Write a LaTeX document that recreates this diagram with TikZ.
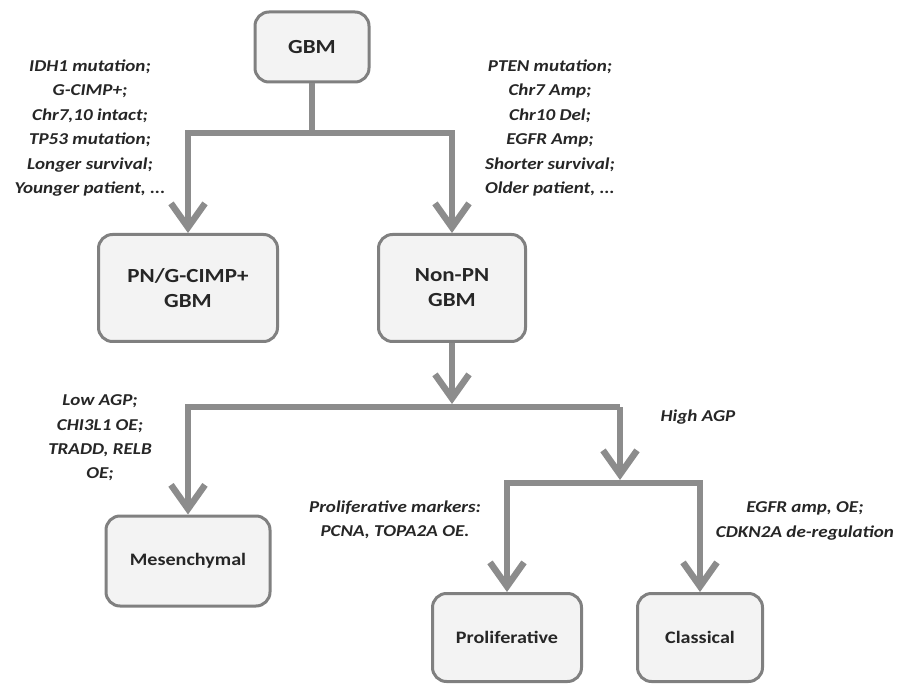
\documentclass[tikz,border=0pt]{standalone}
\usepackage{fontspec}
\setmainfont{Carlito}[FakeStretch=1.15]
\usetikzlibrary{arrows.meta}
\definecolor{linegray}{RGB}{140,140,140}
\definecolor{boxgray}{RGB}{128,128,128}
\definecolor{boxfill}{RGB}{243,243,243}

\begin{document}
\begin{tikzpicture}[x=1pt,y=-1pt,
  box/.style={draw=boxgray,line width=3pt,fill=boxfill,rounded corners=14pt,align=center,text=black!85},
  big/.style={font=\bfseries\fontsize{20}{25}\selectfont},
  small/.style={font=\bfseries\fontsize{17.5}{20}\selectfont},
  conn/.style={draw=linegray,line width=6.5pt},
  arr/.style={conn,-{Straight Barb[length=24pt,width=34pt]}},
  note/.style={align=center,text=black!85,font=\bfseries\itshape\fontsize{16.6}{24.4}\selectfont}]
\useasboundingbox (0,0) rectangle (902,684);

% boxes
\node[box,big,minimum width=114pt,minimum height=70pt] (gbm) at (312,47) {GBM};
\node[box,big,minimum width=179pt,minimum height=107pt] (pn) at (188,288) {PN/G-CIMP+\\GBM};
\node[box,big,minimum width=147pt,minimum height=107pt] (nonpn) at (452,288) {Non-PN\\GBM};
\node[box,small,minimum width=164pt,minimum height=90pt] (mes) at (188,561) {Mesenchymal};
\node[box,small,minimum width=149pt,minimum height=88pt] (prolif) at (507,637.5) {Proliferative};
\node[box,small,minimum width=125pt,minimum height=88pt] (classic) at (700,637.5) {Classical};

% junctions
\coordinate (j1) at (312,133);
\coordinate (j2) at (452,407);
\coordinate (j3) at (620,407);
\coordinate (j4) at (620,483);

% connectors
\draw[conn] (gbm.south) -- (j1);
\draw[arr] (j1) -| (pn.north);
\draw[arr] (j1) -| (nonpn.north);
\draw[arr,shorten >=3pt] (nonpn.south) -- (j2);
\draw[arr] (j3) -| (mes.north);
\draw[arr,shorten >=3pt] (j3) -- (j4);
\draw[arr] (j4) -| (prolif.north);
\draw[arr] (j4) -| (classic.north);

% annotations
\node[note] (pnnote) at (90,128) {IDH1 mutation;\\G-CIMP+;\\Chr7,10 intact;\\TP53 mutation;\\Longer survival;\\Younger patient, ...};
\node[note] (nonpnnote) at (550,128) {PTEN mutation;\\Chr7 Amp;\\Chr10 Del;\\EGFR Amp;\\Shorter survival;\\Older patient, ...};
\node[note] (mesnote) at (100,438) {Low AGP;\\CHI3L1 OE;\\TRADD, RELB\\OE;};
\node[note] (highnote) at (698,417) {High AGP};
\node[note] (prolifnote) at (395,520) {Proliferative markers:\\PCNA, TOPA2A OE.};
\node[note] (classicnote) at (805,521) {EGFR amp, OE;\\CDKN2A de-regulation};

\end{tikzpicture}
\end{document}
